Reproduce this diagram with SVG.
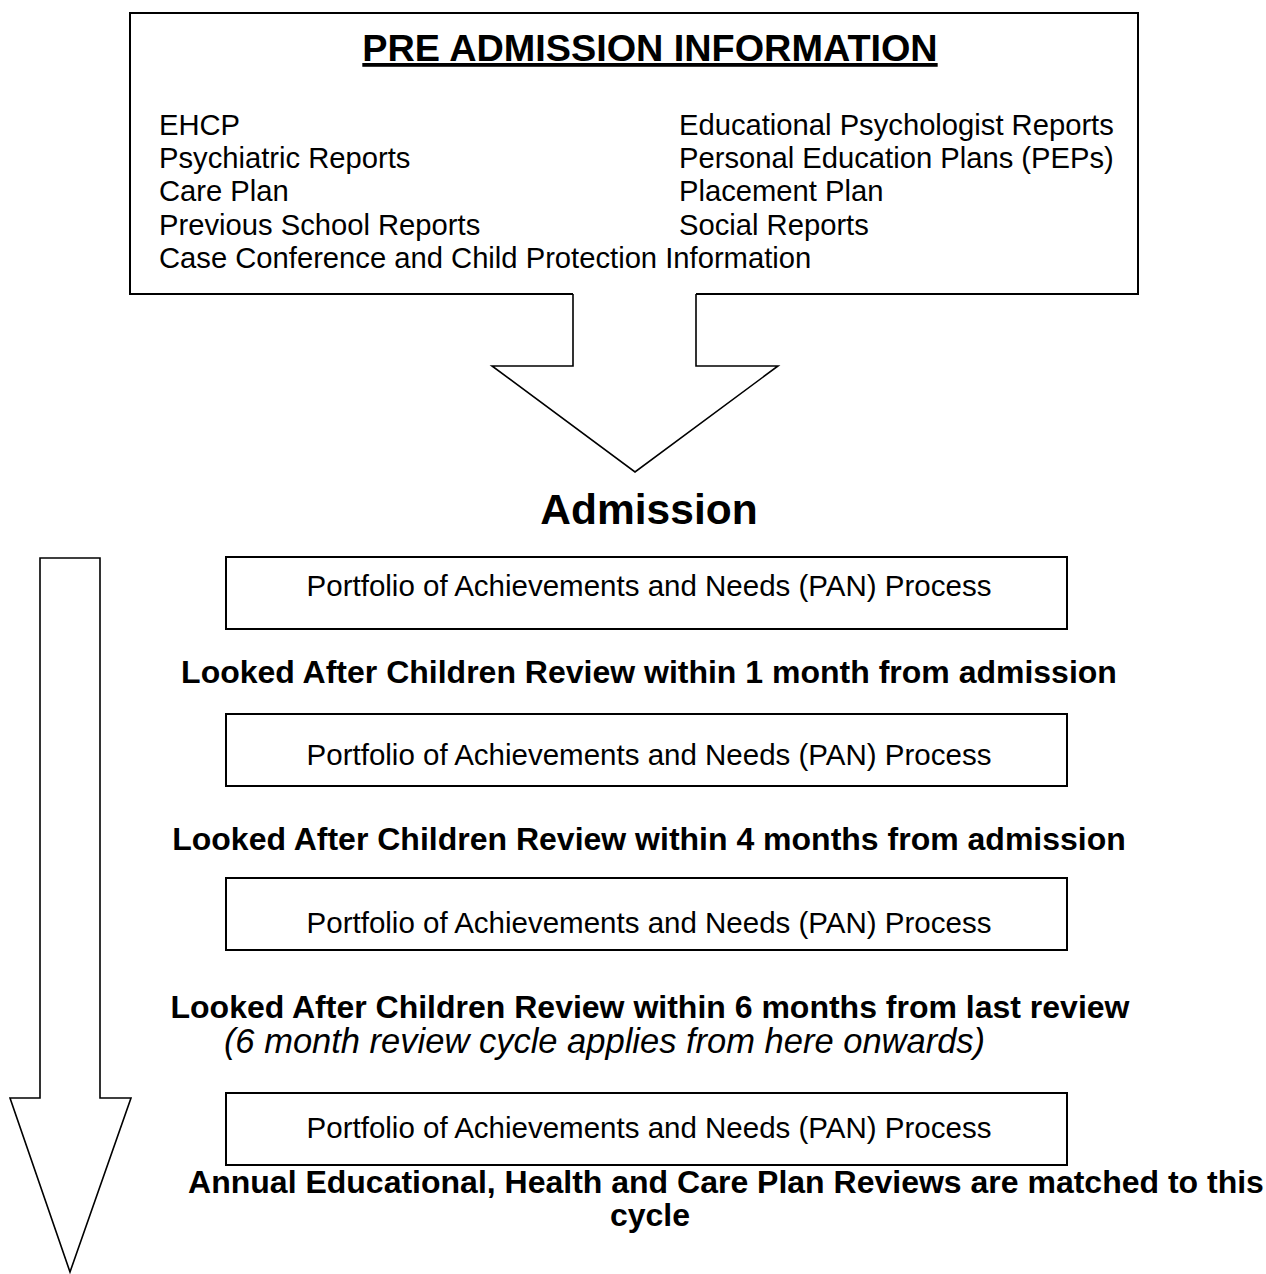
<svg xmlns="http://www.w3.org/2000/svg" width="1266" height="1274" viewBox="0 0 1266 1274">
<style>
.ln{fill:none;stroke:#000;stroke-width:2}
.ar{fill:#fff;stroke:#000;stroke-width:1.6;stroke-linejoin:miter}
.box{fill:#fff;stroke:#000;stroke-width:2}
text{font-family:"Liberation Sans",Arial,sans-serif;fill:#000}
.item{font-size:29.2px}
.pan{font-size:29.5px;text-anchor:middle}
.rev{font-size:32px;font-weight:bold;text-anchor:middle}
</style>
<rect width="1266" height="1274" fill="#fff"/>
<g id="pre-admission">
<path class="ln" d="M573,294 H130 V13 H1138 V294 H696"/>
<text x="650" y="61" font-size="37.8" font-weight="bold" text-anchor="middle" text-decoration="underline">PRE ADMISSION INFORMATION</text>
<text class="item" x="159" y="135">EHCP</text>
<text class="item" x="159" y="168">Psychiatric Reports</text>
<text class="item" x="159" y="201">Care Plan</text>
<text class="item" x="159" y="235">Previous School Reports</text>
<text class="item" x="159" y="268">Case Conference and Child Protection Information</text>
<text class="item" x="679" y="135">Educational Psychologist Reports</text>
<text class="item" x="679" y="168">Personal Education Plans (PEPs)</text>
<text class="item" x="679" y="201">Placement Plan</text>
<text class="item" x="679" y="235">Social Reports</text>
</g>
<g id="connectors">
<path class="ar" d="M573,294 V366 H492 L635,472 L778,366 H696 V294"/>
<path class="ar" d="M40,558 H100 V1098 H131 L70,1272 L10,1098 H40 Z"/>
</g>
<g id="admission">
<text x="649" y="524" font-size="42.5" font-weight="bold" text-anchor="middle">Admission</text>
</g>
<g id="pan1">
<rect class="box" x="226" y="557" width="841" height="72"/>
<text class="pan" x="649" y="596">Portfolio of Achievements and Needs (PAN) Process</text>
</g>
<g id="review1">
<text class="rev" x="649" y="683">Looked After Children Review within 1 month from admission</text>
</g>
<g id="pan2">
<rect class="box" x="226" y="714" width="841" height="72"/>
<text class="pan" x="649" y="765">Portfolio of Achievements and Needs (PAN) Process</text>
</g>
<g id="review2">
<text class="rev" x="649" y="850">Looked After Children Review within 4 months from admission</text>
</g>
<g id="pan3">
<rect class="box" x="226" y="878" width="841" height="72"/>
<text class="pan" x="649" y="933">Portfolio of Achievements and Needs (PAN) Process</text>
</g>
<g id="review3">
<text class="rev" x="650" y="1018">Looked After Children Review within 6 months from last review</text>
<text x="604.5" y="1053" font-size="34.5" font-style="italic" text-anchor="middle">(6 month review cycle applies from here onwards)</text>
</g>
<g id="pan4">
<rect class="box" x="226" y="1093" width="841" height="72"/>
<text class="pan" x="649" y="1138">Portfolio of Achievements and Needs (PAN) Process</text>
</g>
<g id="annual">
<text class="rev" x="726" y="1193">Annual Educational, Health and Care Plan Reviews are matched to this</text>
<text class="rev" x="650" y="1226">cycle</text>
</g>
</svg>
